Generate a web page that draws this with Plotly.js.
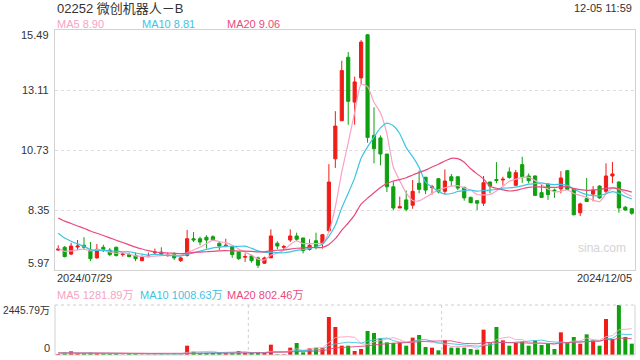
<!DOCTYPE html>
<html><head><meta charset="utf-8">
<script src="https://cdn.plot.ly/plotly-3.0.1.min.js"></script>
<style>html,body{margin:0;padding:0;background:#fff}#chart{width:640px;height:360px}</style>
</head><body><div id="chart"></div>
<script>
const titleText = "02252 微创机器人－B";
const timeText = "12-05 11:59";
const dateLabels = ["2024/07/29", "2024/12/05"];
const priceTicks = [15.49, 13.11, 10.73, 8.35, 5.97];
const volTickLabels = ["2445.79万", "0"];
const volTicks = [2445.79, 0];
const maLabels = ["MA5 8.90", "MA10 8.81", "MA20 9.06"];
const volMaLabels = ["MA5 1281.89万", "MA10 1008.63万", "MA20 802.46万"];

const openP = [6.76,6.87,6.60,6.88,6.95,6.76,6.45,6.87,6.76,6.87,
 6.58,6.58,6.55,6.34,6.50,6.65,6.68,6.54,6.58,6.34,
 6.55,7.21,7.21,7.27,7.29,7.03,6.93,6.90,6.68,6.48,
 6.53,6.45,6.24,6.45,7.03,6.87,7.16,7.32,7.24,6.79,
 7.13,7.03,7.53,10.38,11.89,14.41,12.63,13.59,15.30,11.31,
 11.21,10.57,9.27,8.43,8.75,8.54,9.41,9.65,9.24,9.59,
 9.09,9.67,9.67,9.25,8.85,8.72,8.62,9.46,9.56,9.54,
 9.86,9.33,10.15,9.70,9.70,9.04,9.38,9.14,9.19,9.91,
 9.19,8.24,8.80,8.98,9.30,9.09,9.70,9.46,8.46,8.40];
const highP = [6.95,6.92,7.05,7.16,7.27,7.08,7.00,6.97,6.84,6.90,
 6.66,6.66,6.66,6.55,6.66,6.82,6.87,6.66,6.68,6.50,
 7.56,7.48,7.29,7.35,7.35,7.08,7.21,6.92,6.68,6.63,
 6.58,6.50,6.50,7.58,7.11,6.97,7.58,7.45,7.24,7.19,
 7.45,7.40,10.17,12.27,14.27,14.62,13.64,15.09,15.33,12.42,
 11.31,10.57,9.49,8.88,9.12,9.54,9.91,9.65,9.35,9.62,
 9.96,9.78,9.67,9.27,8.88,8.74,9.70,9.48,10.25,9.67,
 10.04,9.94,10.46,9.80,9.72,9.38,9.40,9.20,9.89,9.94,
 9.22,8.64,9.62,9.30,9.33,10.20,10.25,9.49,8.51,8.43];
const lowP = [6.74,6.47,6.56,6.76,6.76,6.32,6.42,6.68,6.52,6.50,
 6.50,6.47,6.32,6.32,6.47,6.60,6.55,6.50,6.37,6.29,
 6.50,7.08,6.95,6.82,7.13,6.76,6.87,6.45,6.37,6.29,
 6.26,6.05,6.21,6.45,6.79,6.76,7.08,7.11,6.63,6.74,
 6.79,6.82,7.48,10.02,11.89,11.73,11.73,13.35,11.02,10.20,
 10.12,9.06,8.35,8.43,8.30,8.40,9.01,8.98,8.96,9.01,
 8.98,9.30,9.14,8.72,8.62,8.35,8.51,9.01,9.41,9.33,
 9.59,9.30,9.43,9.41,8.90,8.83,8.75,8.83,9.01,9.14,
 8.14,8.11,8.67,8.69,8.80,9.01,9.41,8.24,8.32,8.16];
const closeP = [6.80,6.50,6.92,6.92,6.87,6.42,6.79,6.79,6.58,6.55,
 6.60,6.50,6.42,6.47,6.52,6.68,6.60,6.56,6.45,6.45,
 7.21,7.16,7.08,7.16,7.16,6.92,6.95,6.58,6.42,6.50,
 6.34,6.16,6.45,7.32,6.92,6.90,7.32,7.19,6.74,6.95,
 6.89,7.37,9.46,11.68,13.88,12.66,13.43,15.01,11.23,10.78,
 10.57,9.27,8.43,8.48,8.38,9.09,9.17,9.14,9.27,9.07,
 9.50,9.51,9.22,8.83,8.64,8.62,9.43,9.30,9.52,9.57,
 9.64,9.83,9.67,9.51,8.93,8.85,8.96,9.11,9.62,9.17,
 8.16,8.59,8.69,9.14,8.83,9.70,9.78,8.43,8.35,8.22];
const volume = [49,115,180,98,98,115,98,65,65,65,
 20,50,50,20,30,40,50,30,60,40,
 456,163,98,98,98,98,98,115,196,115,
 98,98,98,505,33,33,359,587,130,326,
 359,359,1858,1369,456,456,196,293,1174,1076,
 815,619,587,619,456,848,978,391,359,228,
 717,359,359,359,293,261,1239,619,1369,717,
 456,587,652,456,717,489,554,293,1109,587,
 880,554,1011,717,456,1761,783,2445.79,880,554];
// closes / volumes of the 19 sessions before the first shown day (estimated, for the moving averages)
const priorCloses = [8.9,8.8,8.9,8.7,8.6,8.6,8.5,8.5,8.4,8.4,8.4,8.2,8.0,7.85,7.7,7.1,6.85,6.71,6.7];
const priorVolumes = [90,80,120,100,110,95,85,130,100,90,120,110,100,140,120,100,90,110,95];

const RED = "#f01c17", GREEN = "#0fa00f";
const C5 = "#f7a3c4", C10 = "#3ec4e2", C20 = "#ea4a7d";
const idx = closeP.map((_, i) => i);

function movAvg(vals, prior, n) {
  const all = prior.concat(vals);
  return vals.map((_, i) => {
    const end = prior.length + i;
    let s = 0;
    for (let k = end - n + 1; k <= end; k++) s += all[k];
    return s / n;
  });
}

const W = 640, H = 360;
const px = x => x / W, py = y => 1 - y / H;
const X0 = 55, X1 = 635, PT = 30, PB = 270, VT = 305, VB = 355;

const traces = [
  {type: "candlestick", x: idx, open: openP, high: highP, low: lowP, close: closeP,
   xaxis: "x", yaxis: "y", whiskerwidth: 0, hoverinfo: "skip",
   increasing: {line: {color: RED, width: 1}, fillcolor: RED},
   decreasing: {line: {color: GREEN, width: 1}, fillcolor: GREEN}},
  {type: "scatter", mode: "lines", x: idx, y: movAvg(closeP, priorCloses, 5), line: {color: C5, width: 1.2, shape: "spline", smoothing: 0.6}, xaxis: "x", yaxis: "y", hoverinfo: "skip"},
  {type: "scatter", mode: "lines", x: idx, y: movAvg(closeP, priorCloses, 10), line: {color: C10, width: 1.2, shape: "spline", smoothing: 0.6}, xaxis: "x", yaxis: "y", hoverinfo: "skip"},
  {type: "scatter", mode: "lines", x: idx, y: movAvg(closeP, priorCloses, 20), line: {color: C20, width: 1.2, shape: "spline", smoothing: 0.6}, xaxis: "x", yaxis: "y", hoverinfo: "skip"},
  {type: "bar", x: idx, y: volume, width: 0.62, xaxis: "x2", yaxis: "y2", hoverinfo: "skip",
   marker: {color: idx.map(i => closeP[i] >= openP[i] ? RED : GREEN), line: {width: 0}}},
  {type: "scatter", mode: "lines", x: idx, y: movAvg(volume, priorVolumes, 5), line: {color: C5, width: 1}, xaxis: "x2", yaxis: "y2", hoverinfo: "skip", opacity: 0.9},
  {type: "scatter", mode: "lines", x: idx, y: movAvg(volume, priorVolumes, 10), line: {color: C10, width: 1}, xaxis: "x2", yaxis: "y2", hoverinfo: "skip", opacity: 0.9},
  {type: "scatter", mode: "lines", x: idx, y: movAvg(volume, priorVolumes, 20), line: {color: C20, width: 1}, xaxis: "x2", yaxis: "y2", hoverinfo: "skip", opacity: 0.9}
];

const FONT = "Liberation Sans, Arial, Noto Sans CJK SC, sans-serif";
const ann = [];
function txt(text, x, y, xa, size, color, extra) {
  ann.push(Object.assign({text: text, xref: "paper", yref: "paper", x: px(x), y: py(y), xanchor: xa, yanchor: "middle",
    showarrow: false, font: {family: FONT, size: size, color: color}}, extra || {}));
}
txt(titleText, X0, 8, "left", 13, "#333", {font: {family: "Liberation Sans, Noto Sans CJK SC, sans-serif", size: 13, color: "#333"}});
txt(timeText, 634, 8, "right", 11, "#333");
txt(maLabels[0], X0, 24, "left", 11, C5);
txt(maLabels[1], 140, 24, "left", 11, C10);
txt(maLabels[2], 225, 24, "left", 11, C20);
// price tick labels through the y axis scale
priceTicks.forEach((v, k) => {
  let shift = 0;
  if (k === 0) shift = -5;
  if (k === priceTicks.length - 1) shift = 7;
  ann.push({text: v.toFixed(2), xref: "paper", yref: "y", x: px(51), y: v, yshift: shift, xanchor: "right", yanchor: "middle",
    showarrow: false, font: {family: FONT, size: 11, color: "#333"}});
});
txt(dateLabels[0], X0, 278, "left", 11, "#333");
txt(dateLabels[1], 634, 278, "right", 11, "#333");
txt(volMaLabels[0], X0, 295, "left", 11, C5);
txt(volMaLabels[1], 138, 295, "left", 11, C10);
txt(volMaLabels[2], 225, 295, "left", 11, C20);
volTicks.forEach((v, k) => {
  ann.push({text: volTickLabels[k], xref: "paper", yref: "y2", x: px(52), y: v, yshift: k === 0 ? -5 : 7, xanchor: "right", yanchor: "middle",
    showarrow: false, font: {family: FONT, size: k === 0 ? 10.2 : 11, color: "#333"}});
});
txt("sina.com", 602, 248, "center", 12, "#d4d4d4");

const GRID = "#dcdcdc", BORDER = "#d2d2d2";
const shapes = [
  {type: "line", xref: "paper", yref: "paper", x0: px(X0), x1: px(X1), y0: py(VT), y1: py(VT), line: {color: "#cfcfcf", width: 1, dash: "dot"}},
  {type: "line", xref: "paper", yref: "paper", x0: px(X0), x1: px(X1), y0: py(VB), y1: py(VB), line: {color: BORDER, width: 1}},
  {type: "line", xref: "paper", yref: "paper", x0: px(X0), x1: px(X0), y0: py(VT), y1: py(VB), line: {color: BORDER, width: 1}},
  {type: "line", xref: "paper", yref: "paper", x0: px(X1), x1: px(X1), y0: py(VT), y1: py(VB), line: {color: BORDER, width: 1}},
  {type: "line", xref: "x2", yref: "paper", x0: 29.5, x1: 29.5, y0: py(VT), y1: py(VB), line: {color: "#cfcfcf", width: 1, dash: "dot"}, layer: "below"},
  {type: "line", xref: "x2", yref: "paper", x0: 59.5, x1: 59.5, y0: py(VT), y1: py(VB), line: {color: "#cfcfcf", width: 1, dash: "dot"}, layer: "below"}
];

const layout = {
  width: W, height: H, margin: {l: 0, r: 0, t: 0, b: 0},
  paper_bgcolor: "#fff", plot_bgcolor: "#fff", showlegend: false,
  font: {family: FONT, size: 11, color: "#333"},
  boxgap: 0.3,
  xaxis: {domain: [px(X0), px(X1)], range: [-0.5, 89.5], anchor: "y", showticklabels: false, showgrid: false, zeroline: false,
    showline: true, mirror: true, linecolor: BORDER, linewidth: 1, ticks: "", rangeslider: {visible: false}, fixedrange: true},
  yaxis: {domain: [py(PB), py(PT)], range: [priceTicks[4], priceTicks[0]], anchor: "x", tickvals: priceTicks.slice(1, 4),
    showticklabels: false, showgrid: true, gridcolor: GRID, griddash: "dot", gridwidth: 1, zeroline: false,
    showline: true, mirror: true, linecolor: BORDER, linewidth: 1, ticks: "", fixedrange: true},
  xaxis2: {domain: [px(X0), px(X1)], range: [-0.5, 89.5], anchor: "y2", showticklabels: false, showgrid: false, zeroline: false,
    showline: false, ticks: "", fixedrange: true},
  yaxis2: {domain: [py(VB), py(VT)], range: [0, volTicks[0]], anchor: "x2", showticklabels: false, showgrid: false,
    zeroline: false, showline: false, ticks: "", fixedrange: true},
  annotations: ann, shapes: shapes
};

Plotly.newPlot("chart", traces, layout, {staticPlot: true, displayModeBar: false});
</script>
</body></html>
